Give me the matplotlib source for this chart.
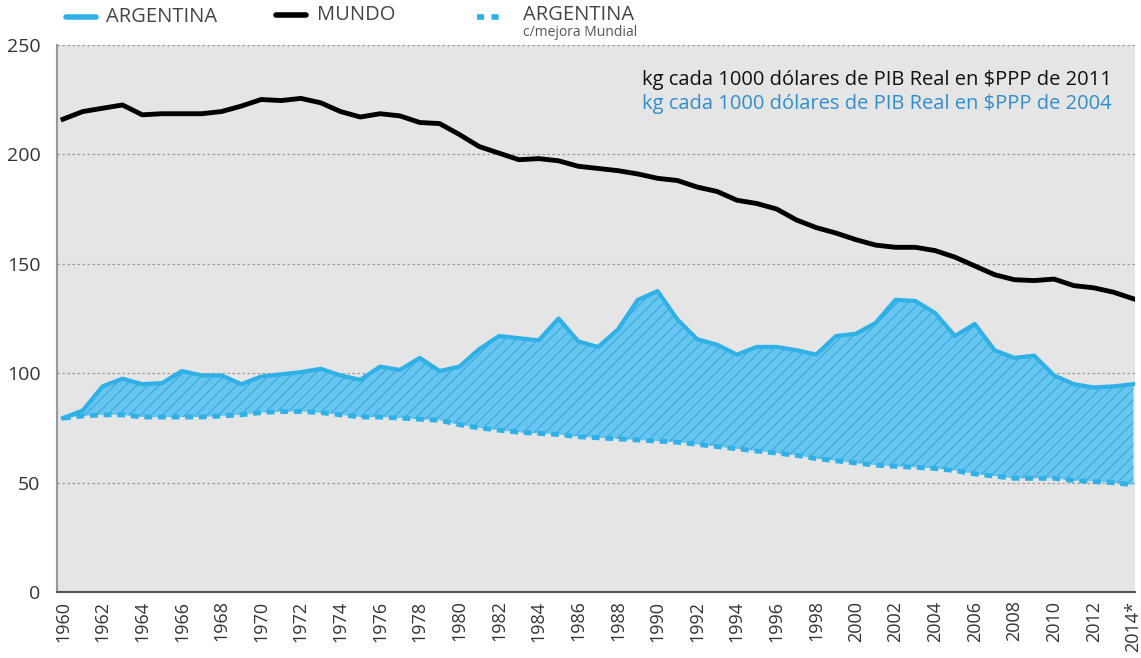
import numpy as np
import matplotlib.pyplot as plt
from matplotlib.lines import Line2D

plt.rcParams['font.family'] = ['Open Sans', 'DejaVu Sans']
plt.rcParams['hatch.linewidth'] = 0.7

years = list(range(1960, 2015))
mundo = [216, 219.5, 221, 222.5, 218, 218.5, 218.5, 218.5, 219.5, 222, 225, 224.5, 225.5, 223.5,
         219.5, 217, 218.5, 217.5, 214.5, 214, 209, 203.5, 200.5, 197.5, 198, 197, 194.5, 193.5,
         192.5, 191, 189, 188, 185, 183, 179, 177.5, 175, 170, 166.5, 164, 161, 158.5, 157.5,
         157.5, 156, 153, 149, 145, 142.7, 142.3, 143, 140, 139, 137, 134]
argentina = [79.5, 83, 94, 97.5, 95, 95.5, 101, 99, 99, 95, 98.5, 99.5, 100.5, 102, 99, 97,
             103, 101.5, 107, 101, 103, 111, 117, 116, 115, 125, 114.5, 112, 120, 133.5, 137.5,
             124.5, 115.5, 113, 108.5, 112, 112, 110.5, 108.5, 117, 118, 123, 133.5, 133, 127.5,
             117, 122.5, 110.5, 107, 108, 99, 95, 93.5, 94, 95]
arg_mejora = [79.5, 80.5, 81, 81, 80, 80, 80, 80, 80.5, 81, 82, 82.5, 82.5, 82, 81, 80, 80, 79.5,
              79, 78.5, 76.5, 75, 74, 73, 72.5, 72, 71, 70.5, 70, 69.5, 69, 68.5, 67.5, 66.5,
              65.5, 64.5, 63.5, 62.5, 61, 60, 59, 58, 57.5, 57, 56.5, 55.5, 54, 53, 52, 52, 52,
              51, 50.5, 50, 49]
tick_years = list(range(1960, 2015, 2))
tick_labels = [str(y) for y in tick_years[:-1]] + ['2014*']

blue = '#2fb0e6'
fill_blue = '#66c6ef'

fig = plt.figure(figsize=(11.41, 6.58), dpi=100)
ax = fig.add_axes([0.050, 0.100, 0.945, 0.832])
ax.set_facecolor('#e5e5e5')

ax.fill_between(years, arg_mejora, argentina, facecolor=fill_blue, edgecolor='#3aa3d6',
                hatch='///', linewidth=0, zorder=2)
ax.plot(years, argentina, color=blue, lw=3, solid_joinstyle='round', zorder=4)
ax.plot(years, arg_mejora, color=blue, lw=3.5, dashes=(1.6, 1.2), zorder=4)
ax.plot(years, mundo, color='black', lw=3.5, solid_joinstyle='round', zorder=5)

ax.set_xlim(1959.7, 2014.1)
ax.set_ylim(0, 250)
ax.set_yticks(range(0, 251, 50))
ax.set_xticks(tick_years)
ax.set_xticklabels(tick_labels, rotation=90, fontsize=13, color='#333333')
ax.tick_params(axis='y', labelsize=14, colors='#333333', length=0, pad=12)
ax.tick_params(axis='x', length=0, pad=6)
for v in range(50, 251, 50):
    ax.axhline(v, color='#9a9a9a', lw=0.9, ls=(0, (2, 2)), zorder=1)
for s in ['top', 'right']:
    ax.spines[s].set_visible(False)
ax.spines['left'].set_color('#999999')
ax.spines['left'].set_linewidth(1.5)
ax.spines['bottom'].set_color('#555555')
ax.spines['bottom'].set_linewidth(1.5)

ax.text(0.978, 0.935, 'kg cada 1000 dólares de PIB Real en $PPP de 2011', transform=ax.transAxes,
        ha='right', va='center', fontsize=14.5, color='#111111')
ax.text(0.978, 0.892, 'kg cada 1000 dólares de PIB Real en $PPP de 2004', transform=ax.transAxes,
        ha='right', va='center', fontsize=14.5, color='#2e8fcf')

# legend on top
W, H = 1141, 658
def fx(x):
    return x / W
def fy(y):
    return 1 - y / H

fig.add_artist(Line2D([fx(66), fx(96)], [fy(17), fy(17)], color=blue, lw=4, solid_capstyle='round'))
fig.text(fx(106), fy(17), 'ARGENTINA', fontsize=14.5, color='#444444', va='center')
fig.add_artist(Line2D([fx(276), fx(306)], [fy(15), fy(15)], color='black', lw=4, solid_capstyle='round'))
fig.text(fx(317), fy(15), 'MUNDO', fontsize=14.5, color='#444444', va='center')
fig.add_artist(Line2D([fx(477), fx(501)], [fy(17), fy(17)], color=blue, lw=4, dashes=(1.3, 1.3)))
fig.text(fx(523), fy(15), 'ARGENTINA', fontsize=14.5, color='#444444', va='center')
fig.text(fx(523), fy(33), 'c/mejora Mundial', fontsize=10, color='#555555', va='center')

fig.savefig('out.png', dpi=100)
